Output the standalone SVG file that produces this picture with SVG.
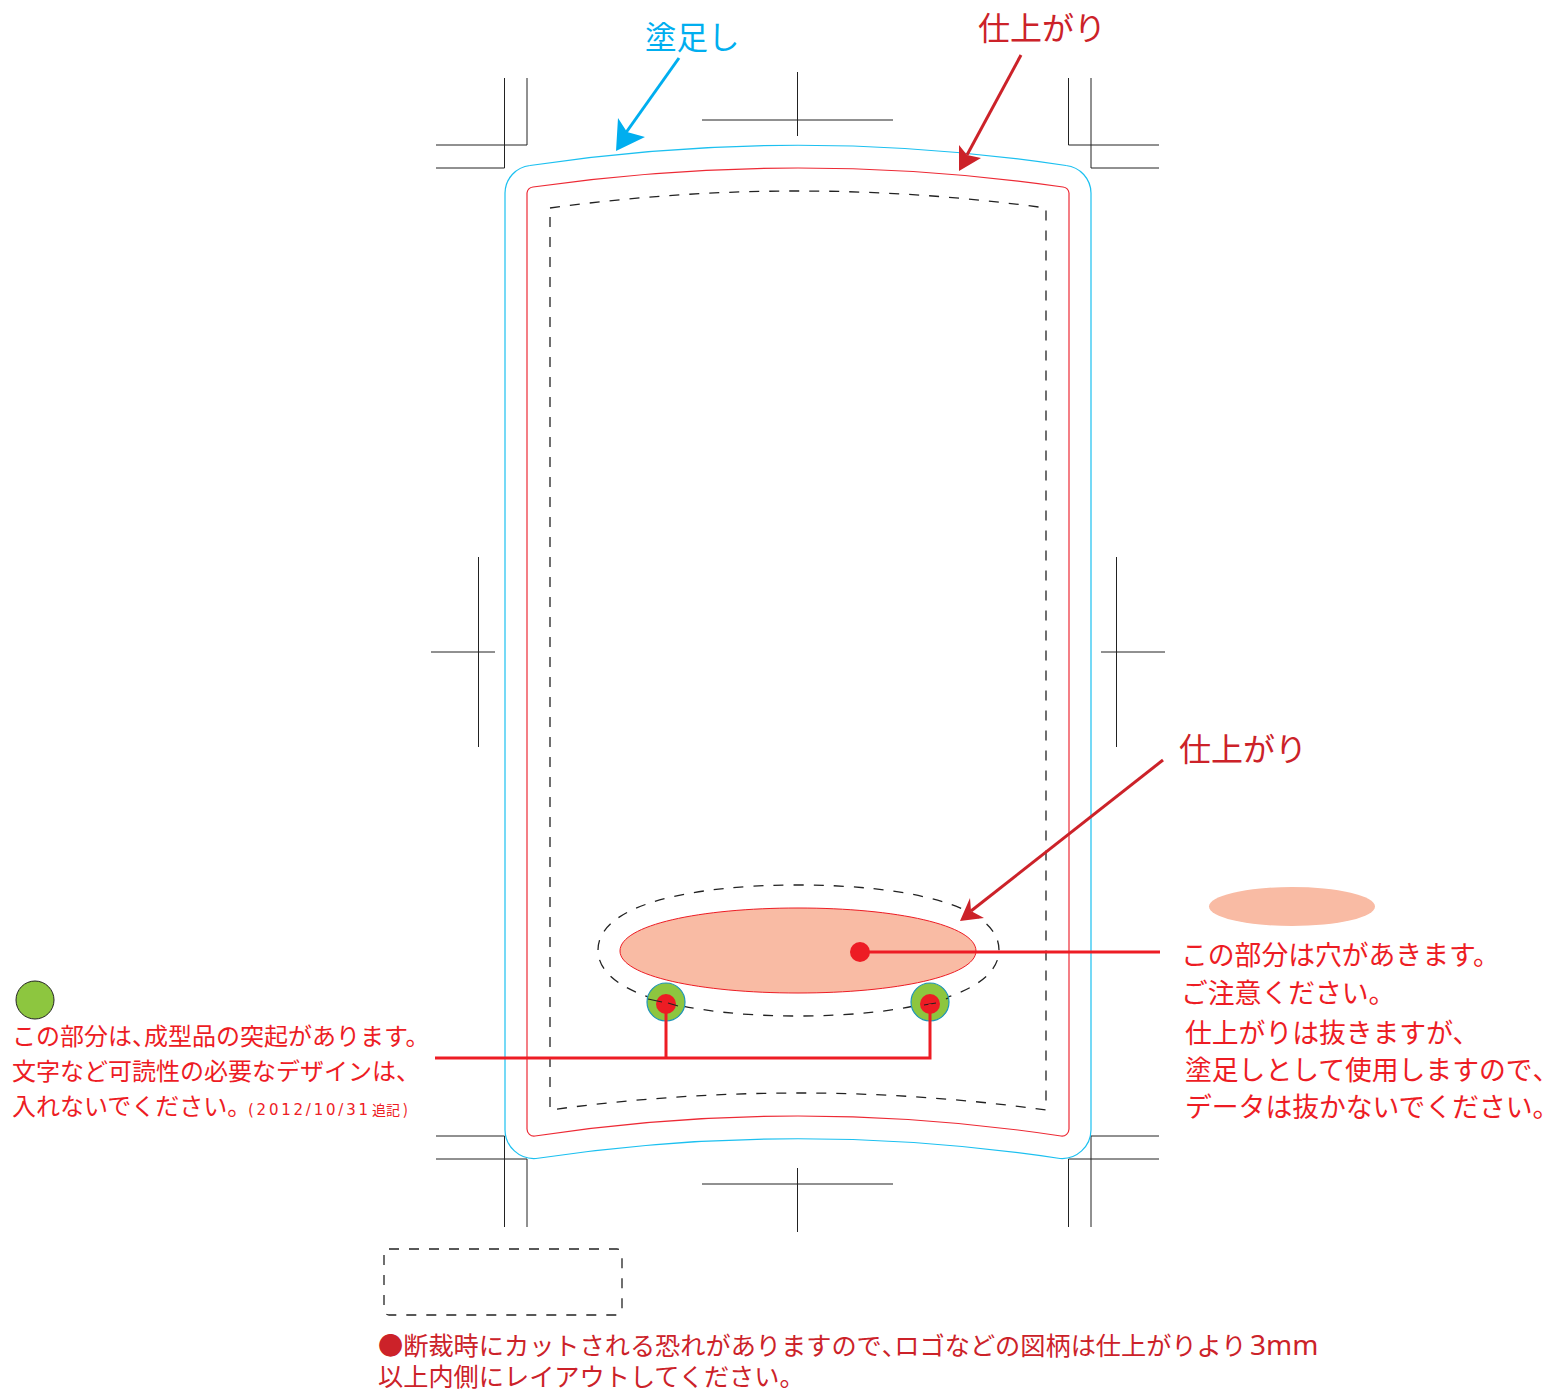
<svg xmlns="http://www.w3.org/2000/svg" width="1547" height="1389" viewBox="0 0 1547 1389">
<style>
text{font-family:"Noto Sans CJK JP","Noto Sans",sans-serif;white-space:pre}
.crop{fill:none;stroke:#222;stroke-width:1}
.dash{fill:none;stroke:#222;stroke-width:1.3;stroke-dasharray:10 10}
.bleed{fill:none;stroke:#1cc0f0;stroke-width:1.2}
.trim{fill:none;stroke:#ed2a35;stroke-width:1.2}
.lead{fill:none;stroke:#ed1c24;stroke-width:3}
.r{fill:#ed1c24}
.d{fill:#cc2229}
.c{fill:#00aeef}
.t25{font-size:25.2px}
.t24{font-size:24px}
.t32{font-size:32px}
.t27{font-size:26.8px}
.h{font-feature-settings:"halt"}
</style>
<rect width="1547" height="1389" fill="#fff"/>
<g id="crop-marks">
<path class="crop" d="M504.500 78V168H436M527 78V145H436M702 120H893M797.500 72V136M1068.500 78V145H1159M1091 78V168H1159M478.500 557V747M431 652H495M1116.500 557V747M1101 652H1165M436 1136H504.500V1227M436 1159H527V1227M1159 1136H1091V1227M1159 1159H1068.500V1227M702 1184H893M797.500 1168V1232"/>
</g>
<g id="bleed-outline">
<path class="bleed" d="M505 193A28 28 0 0 1 530 165.500Q798 125 1066 165.500A28 28 0 0 1 1091 193V1130A29 29 0 0 1 1060 1158.500Q798 1119 536 1158.500A29 29 0 0 1 505 1130Z"/>
</g>
<g id="trim-outline">
<path class="trim" d="M527 193A7 7 0 0 1 533 187Q798 149 1063 187A7 7 0 0 1 1069 193V1129A7 7 0 0 1 1061 1136Q798 1096 535 1136A7 7 0 0 1 527 1129Z"/>
</g>
<g id="safe-outline">
<path class="dash" d="M550 208Q798 174 1046 208V1110Q798 1076 550 1110Z"/>
</g>
<g id="hole">
<path class="dash" d="M598 950C598 905 690 885 798 885C906 885 999 905 999 950C999 995 906 1016 798 1016C690 1016 598 995 598 950Z"/>
<path d="M620 951C620 925 700 908 798 908C896 908 976 925 976 951C976 976 896 993 798 993C700 993 620 976 620 951Z" fill="#f9bba4" stroke="#ed1c24" stroke-width="1"/>
</g>
<g id="bump-left">
<circle cx="666" cy="1002" r="19" fill="#8dc63f" stroke="#1f95b8" stroke-width="1.200"/>
<circle cx="666" cy="1004" r="10" class="r"/>
<path d="M648 999L662 1002M668 1003L678 1006" stroke="#222" stroke-width="1.200" fill="none"/>
</g>
<g id="bump-right">
<circle cx="930" cy="1002" r="19" fill="#8dc63f" stroke="#1f95b8" stroke-width="1.200"/>
<circle cx="930" cy="1004" r="10" class="r"/>
<path d="M924 1005L936 1003M946 999L948 998" stroke="#222" stroke-width="1.200" fill="none"/>
</g>
<g id="connectors">
<path class="lead" d="M435 1058H930V1004M666 1058V1004"/>
<circle cx="860" cy="952" r="10" class="r"/>
<path class="lead" d="M860 952H1160"/>
<path d="M679 58L625 134" fill="none" stroke="#00aeef" stroke-width="3"/>
<path class="c" d="M616 151L618 118L627 132L645 137Z"/>
<path d="M1021 55L967 155" fill="none" stroke="#cc2229" stroke-width="3"/>
<path class="d" d="M959 171L959 145L967 155L981 158Z"/>
<path d="M1163 760L971 911" fill="none" stroke="#cc2229" stroke-width="3"/>
<path class="d" d="M960 921L970 898L971 911L984 918Z"/>
</g>
<g id="label-bleed"><text class="c" font-size="31.500" x="645" y="49">塗足し</text></g>
<g id="label-trim-top"><text class="d t32" x="978" y="40">仕上がり</text></g>
<g id="label-trim-hole"><text class="d t32" x="1179" y="761">仕上がり</text></g>
<g id="note-hole">
<ellipse cx="1292" cy="906.500" rx="83" ry="19.500" fill="#f9bba4"/>
<text class="r t27" x="1181" y="965">この部分は穴があきます。</text>
<text class="r t27" x="1181" y="1003">ご注意ください。</text>
<text class="r t27" x="1185" y="1043">仕上がりは抜きますが、</text>
<text class="r t27" x="1185" y="1080">塗足しとして使用しますので<tspan class="h">、</tspan></text>
<text class="r t27" x="1185" y="1117">データは抜かないでください<tspan class="h">。</tspan></text>
</g>
<g id="note-bump">
<circle cx="35" cy="1000" r="19" fill="#8dc63f" stroke="#222" stroke-width="1"/>
<text class="r t24" x="12" y="1045">この部分は<tspan class="h">、</tspan>成型品の突起があります。</text>
<text class="r t24" x="12" y="1080">文字など可読性の必要なデザインは、</text>
<text class="r t24" x="12" y="1115">入れないでください<tspan class="h">。</tspan></text>
<text class="r" y="1115"><tspan x="248" font-size="15" font-family="DejaVu Sans" textLength="120">(2012/10/31</tspan><tspan x="372" font-size="14">追記</tspan><tspan x="403" font-size="15">)</tspan></text>
</g>
<g id="note-logo">
<rect x="384" y="1249" width="238" height="66" rx="5" class="dash" stroke-dasharray="9 9"/>
<text class="d t25" x="378" y="1355">●断裁時にカットされる恐れがありますので<tspan class="h">、</tspan>ロゴなどの図柄は仕上がりより<tspan x="1250" font-size="28" font-family="Noto Sans">3mm</tspan></text>
<text class="d t25" x="378" y="1386">以上内側にレイアウトしてください。</text>
</g>
</svg>
